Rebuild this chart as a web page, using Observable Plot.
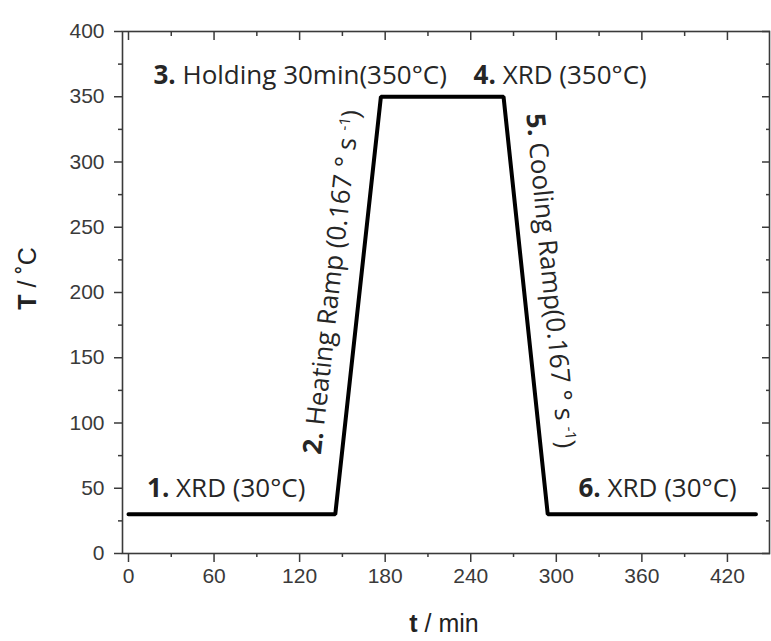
<!DOCTYPE html>
<html>
<head>
<meta charset="utf-8">
<script src="https://cdn.jsdelivr.net/npm/d3@7"></script>
<script src="https://cdn.jsdelivr.net/npm/@observablehq/plot@0.6"></script>
<style>
  html, body { margin: 0; padding: 0; background: #fff; }
  #chart { width: 771px; height: 641px; }
</style>
</head>
<body>
<div id="chart"></div>
<script>
// ---- data ----
const timeMin = [0, 145, 177, 263, 294, 440];
const tempC   = [30, 30, 350, 350, 30, 30];

const xMajorTicks = [0, 60, 120, 180, 240, 300, 360, 420];
const xMinorTicks = [30, 90, 150, 210, 270, 330, 390];
const yMajorTicks = [0, 50, 100, 150, 200, 250, 300, 350, 400];
const yMinorTicks = [25, 75, 125, 175, 225, 275, 325, 375];

// horizontal annotations
const hNum  = ["1.", "3.", "4.", "6."];
const hText = [" XRD (30°C)", " Holding 30min(350°C)", " XRD (350°C)", " XRD (30°C)"];
const hX    = [13, 17.5, 242, 315.5];
const hY    = [50, 366, 366, 50];

// ramp annotations (rotated)
const rNum    = ["2.", "5."];
const rText   = [" Heating Ramp (0.167 ° s ", " Cooling Ramp(0.167 ° s "];
const rSup    = ["-1", "-1"];
const rTail   = [")", ")"];
const rX      = [142.6, 296];
const rY      = [208, 209];
const rAngle  = [-83.6, 84.5];

const xLabelBold = "t", xLabelRest = " / min";
const yLabelBold = "T", yLabelRest = " / ˚C";

// ---- tables ----
const profile = timeMin.map((t, i) => ({t, T: tempC[i]}));
const hAnno = hNum.map((n, i) => ({label: n + hText[i], x: hX[i], y: hY[i]}));
const rAnno = rNum.map((n, i) => ({label: n + rText[i] + rSup[i] + rTail[i], x: rX[i], y: rY[i], a: rAngle[i]}));

const annoFont = "'Open Sans', 'Noto Sans', sans-serif";
const axisColor = "#3a3a3a";

const chart = Plot.plot({
  width: 771,
  height: 641,
  marginLeft: 122,
  marginRight: 2,
  marginTop: 31,
  marginBottom: 88,
  x: {domain: [-4.2, 449.5]},
  y: {domain: [0, 400]},
  style: {fontFamily: "'Liberation Sans', Arial, sans-serif", fontSize: "21px", color: axisColor, background: "#fff"},
  marks: [
    // bottom axis (outward ticks)
    Plot.axisX(xMajorTicks, {anchor: "bottom", tickSize: 9, tickPadding: 6, strokeWidth: 1.5, label: null, fontSize: 21}),
    Plot.axisX(xMinorTicks, {anchor: "bottom", tickSize: 4, strokeWidth: 1.5, tickFormat: () => "", label: null}),
    // top mirrored axis (inward ticks)
    Plot.axisX(xMajorTicks, {anchor: "top", tickSize: 8, insetTop: 8, strokeWidth: 1.5, tickFormat: () => "", label: null}),
    Plot.axisX(xMinorTicks, {anchor: "top", tickSize: 4, insetTop: 4, strokeWidth: 1.5, tickFormat: () => "", label: null}),
    // left axis (outward ticks)
    Plot.axisY(yMajorTicks, {anchor: "left", tickSize: 8, tickPadding: 10, strokeWidth: 1.5, label: null, fontSize: 21}),
    Plot.axisY(yMinorTicks, {anchor: "left", tickSize: 4, strokeWidth: 1.5, tickFormat: () => "", label: null}),
    // right mirrored axis (inward ticks)
    Plot.axisY(yMajorTicks, {anchor: "right", tickSize: 8, insetRight: 8, strokeWidth: 1.5, tickFormat: () => "", label: null}),
    Plot.axisY(yMinorTicks, {anchor: "right", tickSize: 4, insetRight: 4, strokeWidth: 1.5, tickFormat: () => "", label: null}),
    Plot.frame({stroke: axisColor, strokeWidth: 1.6}),
    // temperature profile
    Plot.line(profile, {x: "t", y: "T", stroke: "#000", strokeWidth: 4, strokeLinejoin: "miter"}),
    // annotations
    Plot.text(hAnno, {x: "x", y: "y", text: "label", textAnchor: "start", fontFamily: annoFont, fontSize: 26, fill: "#262626"}),
    Plot.text(rAnno.slice(0, 1), {x: "x", y: "y", text: "label", rotate: rAngle[0], textAnchor: "middle", fontFamily: annoFont, fontSize: 26, fill: "#262626"}),
    Plot.text(rAnno.slice(1, 2), {x: "x", y: "y", text: "label", rotate: rAngle[1], textAnchor: "middle", fontFamily: annoFont, fontSize: 26, fill: "#262626"}),
    // axis titles
    Plot.text([yLabelBold + yLabelRest], {frameAnchor: "left", textAnchor: "middle", lineAnchor: "middle", rotate: -90, dx: -95, dy: -14, fontFamily: "'Liberation Sans', Arial, sans-serif", fontSize: 25, fill: "#222"}),
    Plot.text([xLabelBold + xLabelRest], {frameAnchor: "bottom", textAnchor: "middle", lineAnchor: "middle", dx: -2, dy: 70, fontFamily: "'Liberation Sans', Arial, sans-serif", fontSize: 25, fill: "#222"})
  ]
});

document.getElementById("chart").appendChild(chart);

// ---- rich text: bold step numbers, superscripts, bold axis variable ----
const svg = d3.select(chart);
function rich(full, parts) {
  svg.selectAll("text").filter(function () { return this.textContent === full; }).each(function () {
    const el = d3.select(this);
    el.text("");
    parts.forEach(p => {
      const ts = el.append("tspan").text(p.t);
      if (p.bold) ts.attr("font-weight", "bold");
      if (p.size) ts.attr("font-size", p.size);
      if (p.dy) ts.attr("dy", p.dy);
    });
  });
}
hNum.forEach((n, i) => rich(n + hText[i], [{t: n, bold: true}, {t: hText[i]}]));
rNum.forEach((n, i) => rich(n + rText[i] + rSup[i] + rTail[i], [
  {t: n, bold: true}, {t: rText[i]}, {t: rSup[i], size: "15px", dy: "-0.55em"}, {t: rTail[i], dy: "0.35em"}
]));
rich(yLabelBold + yLabelRest, [{t: yLabelBold, bold: true}, {t: yLabelRest}]);
rich(xLabelBold + xLabelRest, [{t: xLabelBold, bold: true}, {t: xLabelRest}]);
</script>
</body>
</html>
